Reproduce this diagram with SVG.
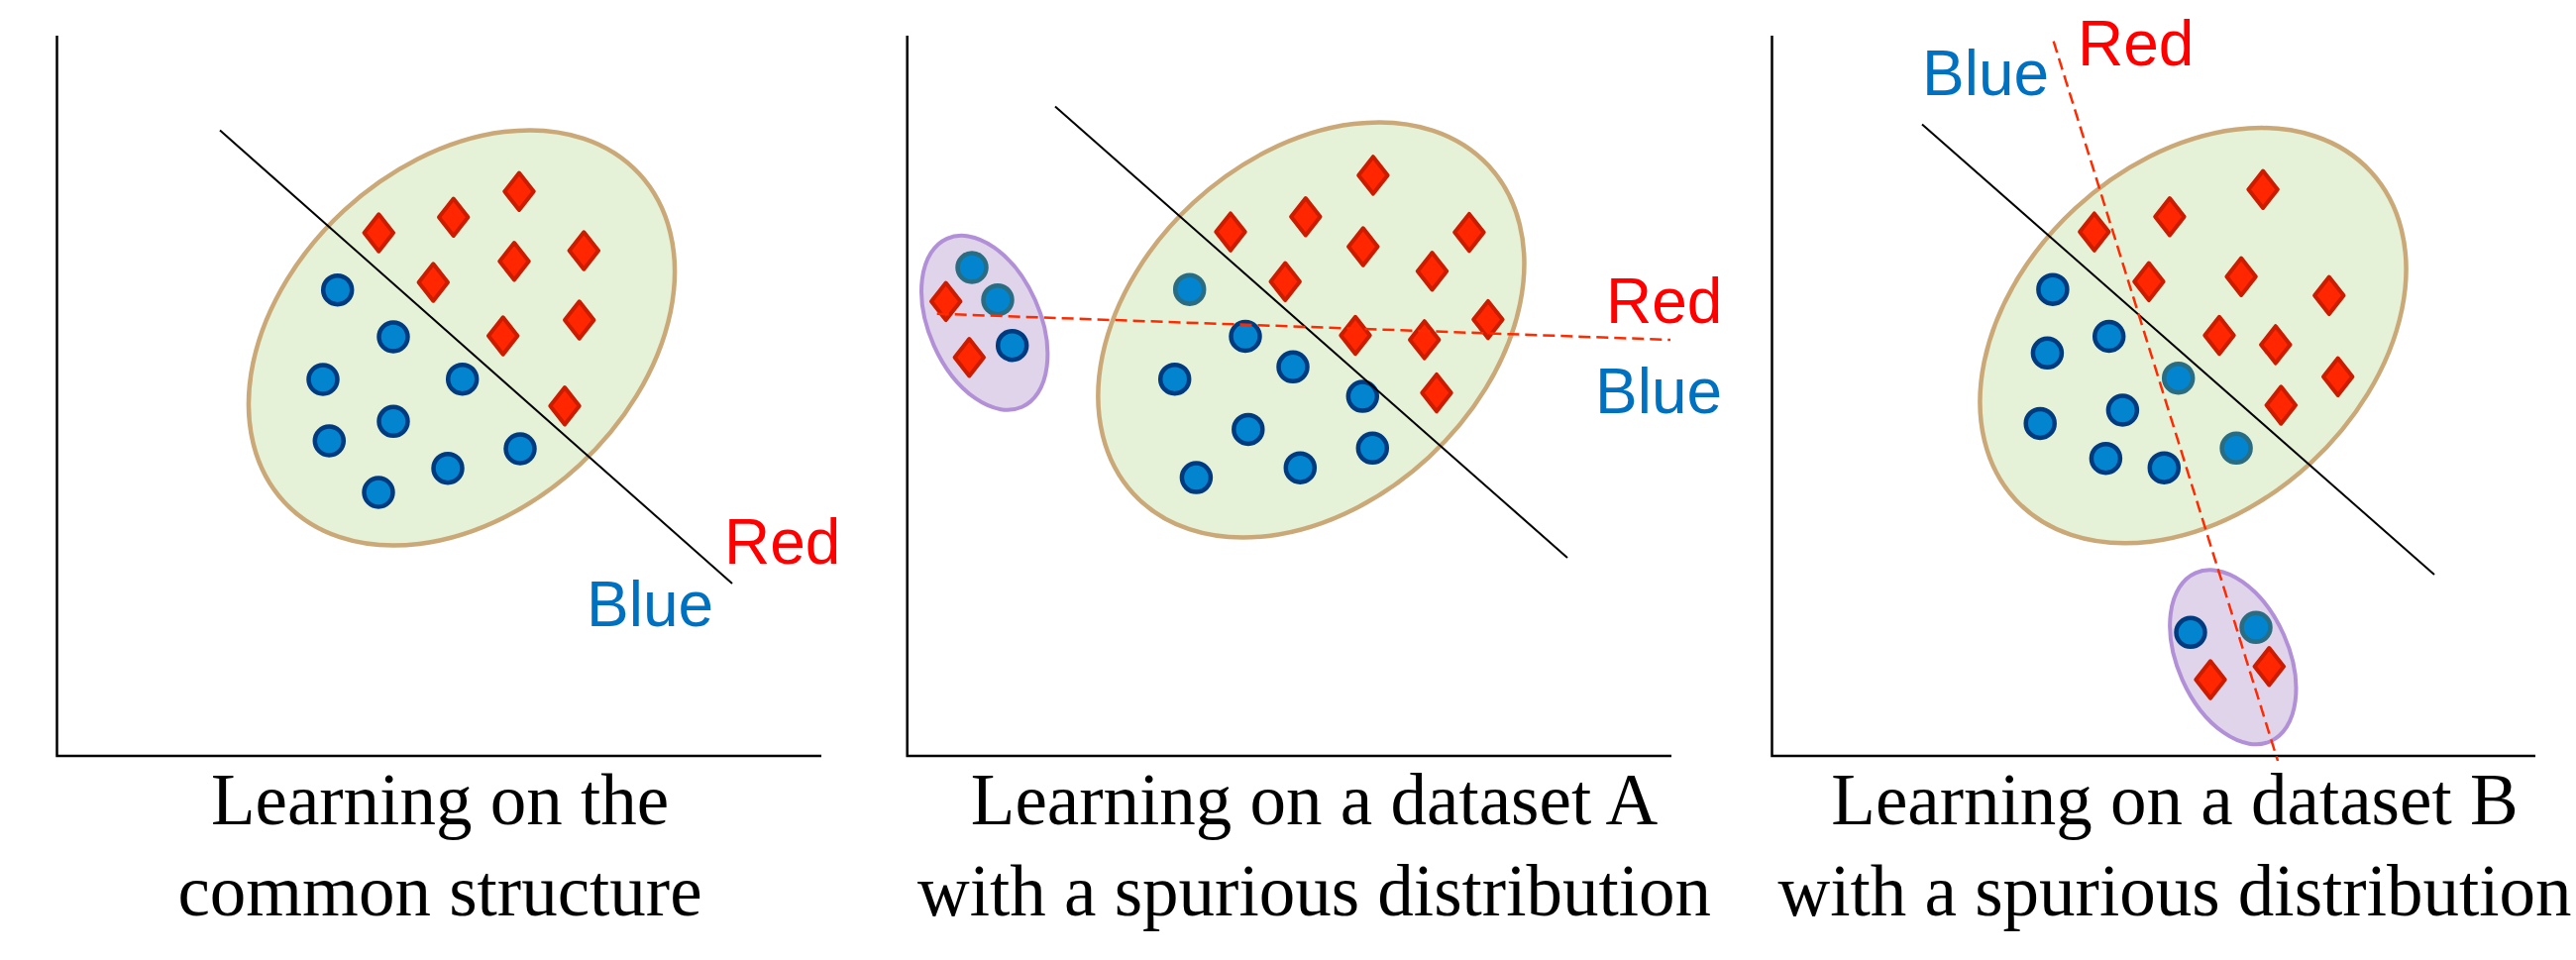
<svg xmlns="http://www.w3.org/2000/svg" xmlns:xlink="http://www.w3.org/1999/xlink" width="2600" height="969" viewBox="0 0 2600 969">
<style>
.axis{stroke:#000;stroke-width:2.5;fill:none}
.sep{stroke:#000;stroke-width:2;fill:none}
.dash{stroke:#FF2A00;stroke-width:2.5;stroke-dasharray:12 6;fill:none}
.big{fill:#E5F2D8;stroke:#CBA877;stroke-width:4.5}
.small{fill:#E0D4EB;stroke:#B290D8;stroke-width:4}
.dia{fill:#FF2600;stroke:#CC1C00;stroke-width:4;stroke-linejoin:round}
.cn{fill:#0284CE;stroke:#003B80;stroke-width:4.5}
.ct{fill:#0284CE;stroke:#2A6C82;stroke-width:4.5}
.lr{font-family:"Liberation Sans",Arial,sans-serif;font-size:64px;fill:#FF0000}
.lb{font-family:"Liberation Sans",Arial,sans-serif;font-size:64px;fill:#0070C0}
.cap{font-family:"Liberation Serif","Times New Roman",serif;font-size:73px;fill:#000;text-anchor:middle}
</style>
<defs>
<path id="d" d="M0,-18.7 L14.7,0 L0,18.7 L-14.7,0 Z"/>
<circle id="c" r="14.5"/>
</defs>

<g id="panel1">
  <path class="axis" d="M57.5,36 V763 H829"/>
  <g id="p1-cluster">
    <ellipse class="big" cx="0" cy="0" rx="244" ry="175" transform="translate(466,341) rotate(-42.7)"/>
    <g class="dia">
      <use href="#d" x="524" y="193.3"/><use href="#d" x="457.7" y="219.3"/><use href="#d" x="382.3" y="235"/>
      <use href="#d" x="519" y="263.7"/><use href="#d" x="589.3" y="253"/><use href="#d" x="437.3" y="285"/>
      <use href="#d" x="507.7" y="339"/><use href="#d" x="584.7" y="323"/><use href="#d" x="570" y="409.7"/>
    </g>
    <g class="cn">
      <use href="#c" x="340.7" y="292.7"/><use href="#c" x="397" y="340"/><use href="#c" x="326" y="383"/>
      <use href="#c" x="466.7" y="382.7"/><use href="#c" x="397" y="425.3"/><use href="#c" x="332.3" y="445"/>
      <use href="#c" x="525" y="453"/><use href="#c" x="452" y="472.7"/><use href="#c" x="382" y="497"/>
    </g>
  </g>
  <text class="lr" x="731" y="569">Red</text>
  <text class="lb" x="592" y="632">Blue</text>
  <text class="cap" x="444" y="832">Learning on the</text>
  <text class="cap" x="444" y="924">common structure</text>
</g>

<g id="panel2">
  <path class="axis" d="M915.7,36 V763 H1687"/>
  <g id="p2-cluster">
    <ellipse class="big" cx="0" cy="0" rx="244" ry="175" transform="translate(1323.4,333) rotate(-42.7)"/>
    <g class="dia">
      <use href="#d" x="1385.9" y="176.9"/><use href="#d" x="1242" y="234.1"/><use href="#d" x="1317.8" y="218.7"/>
      <use href="#d" x="1375.8" y="249"/><use href="#d" x="1482.9" y="234.6"/><use href="#d" x="1297.2" y="284.3"/>
      <use href="#d" x="1445.5" y="273.8"/><use href="#d" x="1501.9" y="322.6"/><use href="#d" x="1368" y="338.5"/>
      <use href="#d" x="1437.7" y="342.9"/><use href="#d" x="1450" y="396.6"/>
    </g>
    <g class="cn">
      <use href="#c" x="1257" y="339.5"/><use href="#c" x="1185.7" y="382.7"/><use href="#c" x="1305" y="370.3"/>
      <use href="#c" x="1375.3" y="400.1"/><use href="#c" x="1259.8" y="433.4"/><use href="#c" x="1385.3" y="452.3"/>
      <use href="#c" x="1207.4" y="482.1"/><use href="#c" x="1312.3" y="472.2"/>
    </g>
    <use class="ct" href="#c" x="1200.7" y="292.2"/>
  </g>
  <g id="p2-spurious">
    <ellipse class="small" cx="0" cy="0" rx="93" ry="56" transform="translate(993.7,325.8) rotate(66)"/>
    <use class="ct" href="#c" x="981" y="270"/>
    <use class="ct" href="#c" x="1007" y="302.7"/>
    <use class="cn" href="#c" x="1021.7" y="348.7"/>
    <use class="dia" href="#d" x="954.7" y="304.3"/>
    <use class="dia" href="#d" x="978.3" y="360.7"/>
  </g>
  <text class="lr" x="1621" y="326">Red</text>
  <text class="lb" x="1610" y="416.7">Blue</text>
  <text class="cap" x="1326.5" y="832">Learning on a dataset A</text>
  <text class="cap" x="1326.5" y="924">with a spurious distribution</text>
</g>

<g id="panel3">
  <path class="axis" d="M1788.5,36 V763 H2559"/>
  <g id="p3-cluster">
    <ellipse class="big" cx="0" cy="0" rx="244" ry="175" transform="translate(2213.5,338.7) rotate(-42.7)"/>
    <g class="dia">
      <use href="#d" x="2284.1" y="191.3"/><use href="#d" x="2189.9" y="218.7"/><use href="#d" x="2113.8" y="234.1"/>
      <use href="#d" x="2168.9" y="284.3"/><use href="#d" x="2262.1" y="279.3"/><use href="#d" x="2350.8" y="298.2"/>
      <use href="#d" x="2240" y="338.5"/><use href="#d" x="2296.8" y="347.9"/><use href="#d" x="2359.7" y="380.2"/>
      <use href="#d" x="2302.3" y="409"/>
    </g>
    <g class="cn">
      <use href="#c" x="2071.9" y="292.2"/><use href="#c" x="2128.7" y="339.5"/><use href="#c" x="2066.4" y="356.3"/>
      <use href="#c" x="2142.4" y="414"/><use href="#c" x="2059.2" y="427.4"/><use href="#c" x="2125.4" y="462.7"/>
      <use href="#c" x="2184.3" y="472.2"/>
    </g>
    <use class="ct" href="#c" x="2198.7" y="381.7"/>
    <use class="ct" href="#c" x="2257.1" y="452.3"/>
  </g>
  <g id="p3-spurious">
    <ellipse class="small" cx="0" cy="0" rx="93" ry="56" transform="translate(2253.8,663.3) rotate(66)"/>
    <use class="cn" href="#c" x="2211" y="638.3"/>
    <use class="ct" href="#c" x="2277" y="633.3"/>
    <use class="dia" href="#d" x="2231" y="686"/>
    <use class="dia" href="#d" x="2290.3" y="672.7"/>
  </g>
  <text class="lb" x="1940" y="96">Blue</text>
  <text class="lr" x="2097" y="66">Red</text>
  <text class="cap" x="2195" y="832">Learning on a dataset B</text>
  <text class="cap" x="2195" y="924">with a spurious distribution</text>
</g>

<g id="connectors">
  <line class="sep" x1="222" y1="131.5" x2="739" y2="589"/>
  <line class="sep" x1="1065" y1="107.5" x2="1582" y2="563"/>
  <line class="sep" x1="1940" y1="125.5" x2="2457" y2="580"/>
  <line class="dash" x1="945.7" y1="316.7" x2="1686" y2="343"/>
  <line class="dash" x1="2072.7" y1="41.7" x2="2299" y2="768"/>
</g>
</svg>
